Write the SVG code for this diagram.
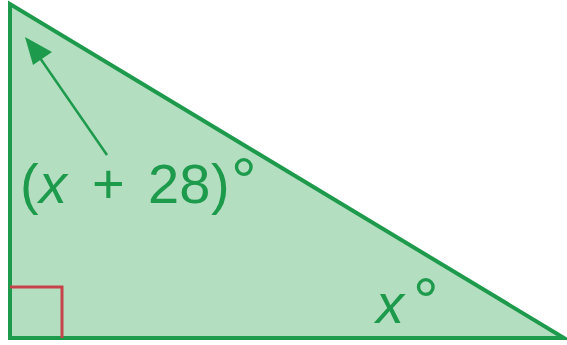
<svg xmlns="http://www.w3.org/2000/svg" width="567" height="345" viewBox="0 0 567 345">
<style>
.lbl{font-family:"Liberation Sans",Arial,sans-serif;font-size:56px;fill:#1e9a4c}
.it{font-style:italic}
.deg{font-size:64px}
</style>
<g id="triangle">
<polygon points="10,4 10,338 564,338" fill="#b3dfc0" stroke="#1e9a4c" stroke-width="4" stroke-linejoin="miter"/>
</g>
<g id="right-angle">
<polyline points="10,287 62,287 62,338" fill="none" stroke="#c8424a" stroke-width="3"/>
</g>
<g id="connectors">
<line x1="107" y1="155" x2="40" y2="58" stroke="#1e9a4c" stroke-width="2.5"/>
<polygon points="25,37 52,52 33,65" fill="#1e9a4c"/>
</g>
<g id="label-top">
<text class="lbl" y="203"><tspan x="20">(</tspan><tspan class="it" x="39">x</tspan><tspan x="92">+</tspan><tspan x="148">28</tspan><tspan x="211">)</tspan><tspan class="deg" x="231">°</tspan></text>
</g>
<g id="label-bottom">
<text class="lbl" y="323"><tspan class="it" x="376">x</tspan><tspan class="deg" x="413">°</tspan></text>
</g>
</svg>
